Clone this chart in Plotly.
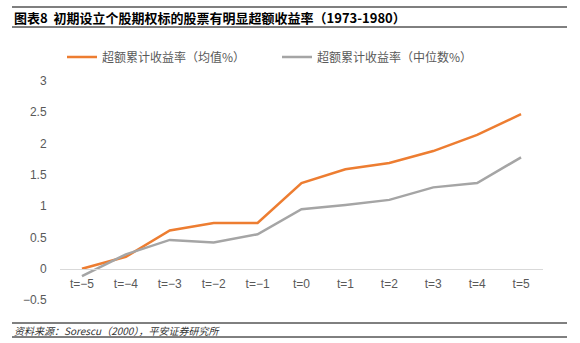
import plotly.graph_objects as go

# Event-time axis and cumulative abnormal returns
periods = ["t=−5", "t=−4", "t=−3", "t=−2", "t=−1", "t=0", "t=1", "t=2", "t=3", "t=4", "t=5"]
mean_car = [0.0, 0.19, 0.61, 0.73, 0.73, 1.37, 1.59, 1.69, 1.88, 2.14, 2.47]
median_car = [-0.12, 0.23, 0.46, 0.42, 0.55, 0.95, 1.02, 1.10, 1.30, 1.37, 1.78]
y_ticks = [-0.5, 0, 0.5, 1, 1.5, 2, 2.5, 3]
y_tick_text = ["−0.5", "0", "0.5", "1", "1.5", "2", "2.5", "3"]

title_text = "图表8  初期设立个股期权标的股票有明显超额收益率（1973-1980）"
source_text = "资料来源：Sorescu（2000），平安证券研究所"

W, H = 580, 343
L, R, T, B = 60, 37, 81, 43
pw, ph = W - L - R, H - T - B


def px_x(x):
    return (x - L) / pw


def px_y(y):
    return (H - B - y) / ph


base_font = "Liberation Sans, Noto Sans CJK SC, sans-serif"
cjk_font = "Noto Sans CJK SC, Liberation Sans, sans-serif"

fig = go.Figure()
fig.add_trace(go.Scatter(
    x=periods, y=mean_car, mode="lines", name="超额累计收益率（均值%）",
    line=dict(color="#ED7D31", width=2.5),
))
fig.add_trace(go.Scatter(
    x=periods, y=median_car, mode="lines", name="超额累计收益率（中位数%）",
    line=dict(color="#A5A5A5", width=2.5),
))

y_lo, y_hi = -0.5, 3.0
fig.update_layout(
    width=W, height=H,
    margin=dict(l=L, r=R, t=T, b=B),
    paper_bgcolor="white", plot_bgcolor="white",
    font=dict(family=base_font, size=12, color="#595959"),
    showlegend=True,
    legend=dict(
        orientation="h", x=px_x(62), y=px_y(57), xanchor="left", yanchor="middle",
        font=dict(family=cjk_font, size=12, color="#595959"),
        entrywidth=170, entrywidthmode="pixels",
        bgcolor="rgba(0,0,0,0)",
    ),
    xaxis=dict(
        type="category", range=[-0.5, len(periods) - 0.5],
        anchor="free", position=(0 - y_lo) / (y_hi - y_lo),
        showline=True, linecolor="#D9D9D9", linewidth=1,
        showgrid=False, zeroline=False,
        ticks="outside", ticklen=4, tickcolor="rgba(0,0,0,0)",
        tickfont=dict(size=12, color="#595959"),
    ),
    yaxis=dict(
        range=[y_lo, y_hi], tickvals=y_ticks, ticktext=y_tick_text,
        showgrid=False, zeroline=False, showline=False,
        ticks="outside", ticklen=10, tickcolor="rgba(0,0,0,0)",
        tickfont=dict(size=12, color="#595959"),
    ),
)

# Title band and source band rules
for yy, w in [(7, 1.2), (27, 1), (323, 1), (337, 1)]:
    fig.add_shape(type="line", xref="paper", yref="paper",
                  x0=px_x(12), x1=px_x(567), y0=px_y(yy), y1=px_y(yy),
                  line=dict(color="black", width=w))

fig.add_annotation(
    xref="paper", yref="paper", x=px_x(12), y=px_y(17),
    xanchor="left", yanchor="middle", showarrow=False,
    text="<b>" + title_text + "</b>",
    font=dict(family=cjk_font, size=13, color="black"),
)
fig.add_annotation(
    xref="paper", yref="paper", x=px_x(12), y=px_y(330.5),
    xanchor="left", yanchor="middle", showarrow=False,
    text="<i>" + source_text + "</i>",
    font=dict(family=cjk_font, size=10, color="#333333"),
)

fig.write_html("out.html")
